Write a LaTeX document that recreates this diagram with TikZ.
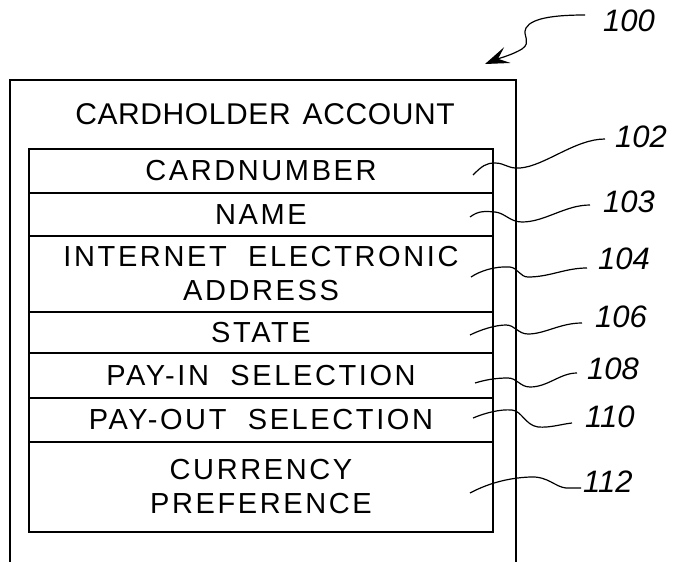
\documentclass[tikz,border=0pt]{standalone}
\usepackage{fontspec}
\setmainfont{Liberation Sans}
\usetikzlibrary{arrows.meta,positioning}

\begin{document}
\begin{tikzpicture}[x=1pt,y=-1pt]
    \tikzstyle{field}=[draw, line width=1.6pt, minimum width=464pt, inner sep=0pt, outer sep=0pt, align=center, font=\fontsize{29}{34}\selectfont\addfontfeatures{LetterSpace=9}]
    \tikzstyle{ref}=[anchor=west, inner sep=0pt, font=\fontsize{31}{32}\selectfont\itshape]
    \tikzstyle{lead}=[line width=1.2pt]
    \useasboundingbox (0,0) rectangle (675,562);
    % outer record, open at the bottom
    \draw[line width=1.6pt] (10,562) -- (10,80) -- (516,80) -- (516,562);
    \node[inner sep=0pt,font=\fontsize{30}{34}\selectfont\addfontfeatures{LetterSpace=2}] (title) at (265,114) {CARDHOLDER\hspace{12pt}ACCOUNT};
    \node[field,minimum height=44pt,anchor=north] (cardnum) at (261,149) {CARDNUMBER};
    \node[field,minimum height=43pt,below=0pt of cardnum] (name) {NAME};
    \node[field,minimum height=76pt,below=0pt of name] (email) {INTERNET\ \ ELECTRONIC\\ADDRESS};
    \node[field,minimum height=41pt,below=0pt of email] (state) {STATE};
    \node[field,minimum height=45pt,below=0pt of state] (payin) {PAY-IN\ \ SELECTION};
    \node[field,minimum height=44pt,below=0pt of payin] (payout) {PAY-OUT\ \ SELECTION};
    \node[field,minimum height=90pt,below=0pt of payout] (currency) {CURRENCY\\PREFERENCE};
    % reference numerals
    \node[ref] (r100) at (603,21) {100};
    \node[ref] (r102) at (615,137) {102};
    \node[ref] (r103) at (603,202) {103};
    \node[ref] (r104) at (598,259) {104};
    \node[ref] (r106) at (595,317) {106};
    \node[ref] (r108) at (587,369) {108};
    \node[ref] (r110) at (585,417) {110};
    \node[ref] (r112) at (583,482) {112};
    \coordinate (tip) at (485,64);
    \coordinate (s102) at (473,175);
    \coordinate (s103) at (470,217);
    \coordinate (s104) at (471,277);
    \coordinate (s106) at (470,335);
    \coordinate (s108) at (475,383);
    \coordinate (s110) at (473,418);
    \coordinate (s112) at (470,493);
    % leaders
    \draw[lead,-{Stealth[length=24pt,width=17pt,inset=10pt]}] ([xshift=-18pt,yshift=6pt]r100.west) .. controls (560,15) and (532,17) .. (526,28)
        .. controls (522,36) and (532,42) .. (522,49) .. controls (512,55) and (500,58) .. (tip);
    \draw[lead] (s102) .. controls (482,166) and (486,163) .. (495,163) .. controls (505,163) and (508,169) .. (520,168)
        .. controls (545,166) and (575,139) .. ([xshift=-10pt,yshift=-2pt]r102.west);
    \draw[lead] (s103) .. controls (478,211) and (484,211) .. (495,212) .. controls (505,213) and (510,222) .. (522,222)
        .. controls (545,222) and (565,205) .. ([xshift=-13pt,yshift=-3pt]r103.west);
    \draw[lead] (s104) .. controls (480,271) and (495,266) .. (510,267) .. controls (518,268) and (520,277) .. (528,277)
        .. controls (550,277) and (565,268) .. ([xshift=-11pt,yshift=-9pt]r104.west);
    \draw[lead] (s106) .. controls (480,330) and (495,325) .. (506,325) .. controls (515,325) and (518,334) .. (528,334)
        .. controls (545,334) and (560,323) .. ([xshift=-13pt,yshift=-6pt]r106.west);
    \draw[lead] (s108) .. controls (485,380) and (495,378) .. (508,378) .. controls (517,378) and (520,387) .. (530,387)
        .. controls (548,387) and (560,373) .. ([xshift=-10pt,yshift=-4pt]r108.west);
    \draw[lead] (s110) .. controls (485,413) and (500,409) .. (512,410) .. controls (522,411) and (525,425) .. (538,427)
        .. controls (550,428) and (562,424) .. ([xshift=-13pt,yshift=-6pt]r110.west);
    \draw[lead] (s112) .. controls (485,485) and (505,478) .. (530,477) .. controls (548,476) and (555,487) .. (566,488)
        .. controls (572,488) and (578,488) .. ([xshift=-2pt,yshift=-6pt]r112.west);
\end{tikzpicture}
\end{document}
